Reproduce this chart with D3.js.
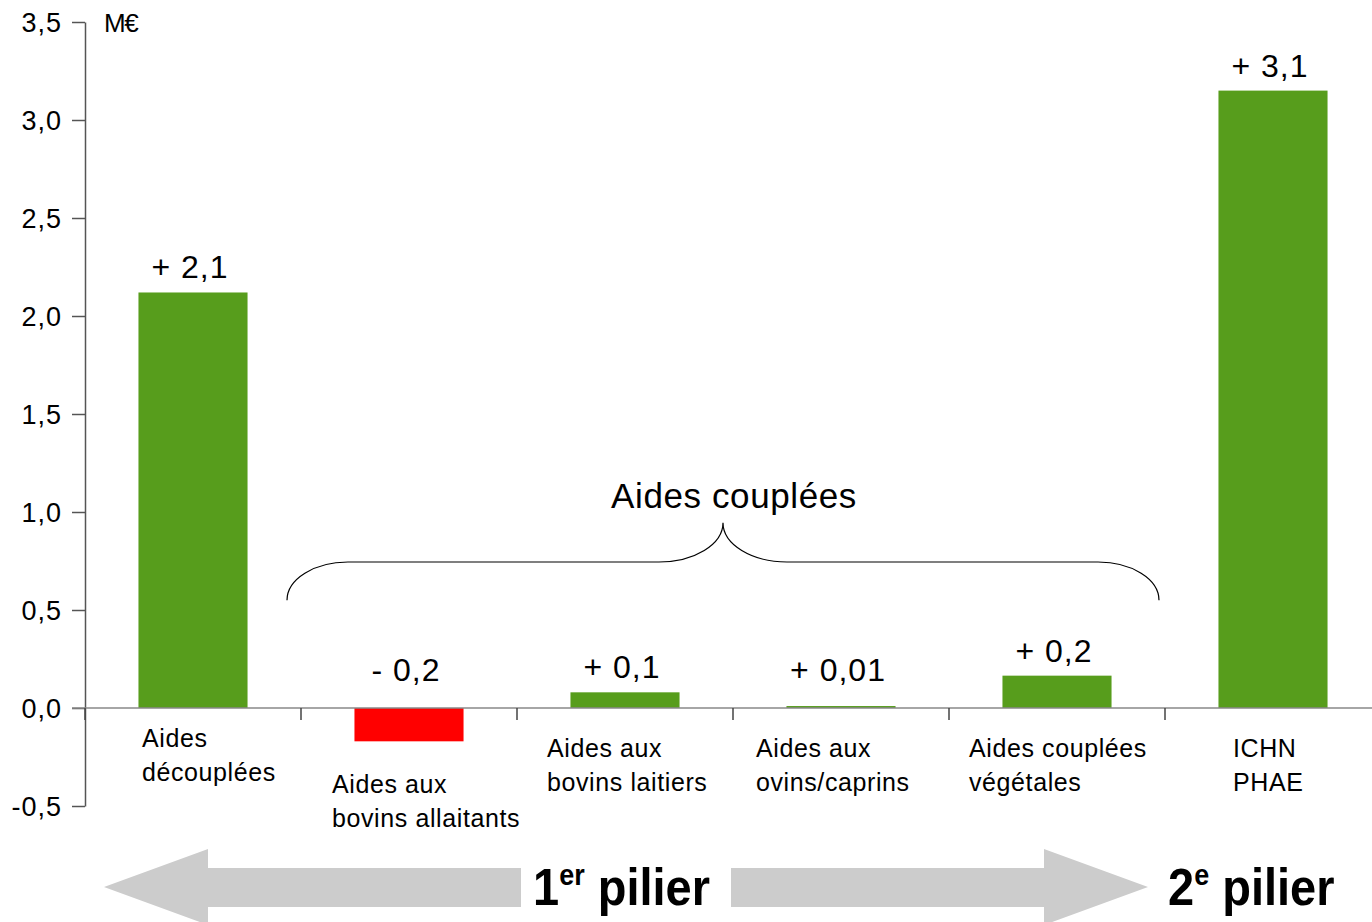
<!DOCTYPE html>
<html>
<head>
  <meta charset="utf-8">
  <script src="https://cdn.jsdelivr.net/npm/d3@7"></script>
  <style>
    body { margin: 0; background: #fff; }
    svg text { font-family: "Liberation Sans", Arial, sans-serif; fill: #000; }
  </style>
</head>
<body>
<script>
  // Data (M€)
  var categories = ["Aides découplées", "Aides aux bovins allaitants", "Aides aux bovins laitiers",
                    "Aides aux ovins/caprins", "Aides couplées végétales", "ICHN PHAE"];
  var categoryLines = [["Aides", "découplées"], ["Aides aux", "bovins allaitants"], ["Aides aux", "bovins laitiers"],
                       ["Aides aux", "ovins/caprins"], ["Aides couplées", "végétales"], ["ICHN", "PHAE"]];
  var values = [2.12, -0.17, 0.08, 0.01, 0.165, 3.15];
  var valueLabels = ["+ 2,1", "- 0,2", "+ 0,1", "+ 0,01", "+ 0,2", "+ 3,1"];
  var yTicks = [-0.5, 0, 0.5, 1.0, 1.5, 2.0, 2.5, 3.0, 3.5];

  // layout for the hand placed category labels (offset from band start, first baseline below zero)
  var labelDx = [57, 31, 30, 23, 20, 68];
  var labelDy = [39, 85, 49, 49, 49, 49];

  var width = 1372, height = 922;
  var green = "#579d1c", red = "#ff0000";

  var svg = d3.select("body").append("svg")
      .attr("width", width)
      .attr("height", height);

  var y = d3.scaleLinear().domain([-0.5, 3.5]).range([806, 22]);
  var x = d3.scaleBand().domain(categories)
      .range([85, 1381])
      .paddingInner(0.495)
      .paddingOuter(0.2475);
  var step = x.step();
  var bandStart = function(c) { return x(c) - x.paddingOuter() * step; };

  var fmt = function(d) { return d3.format(".1f")(d).replace("\u2212", "-").replace(".", ","); };

  // bars
  svg.selectAll("rect.bar")
    .data(values)
    .enter().append("rect")
      .attr("class", "bar")
      .attr("x", function(d, i) { return x(categories[i]); })
      .attr("width", x.bandwidth())
      .attr("y", function(d) { return y(Math.max(d, 0)); })
      .attr("height", function(d) { return Math.abs(y(d) - y(0)); })
      .attr("fill", function(d) { return d < 0 ? red : green; });

  // y axis
  var yAxis = d3.axisLeft(y)
      .tickValues(yTicks)
      .tickSize(13)
      .tickSizeOuter(0)
      .tickPadding(10)
      .tickFormat(fmt);

  var ga = svg.append("g")
      .attr("transform", "translate(85,0)")
      .call(yAxis);
  ga.select(".domain").attr("stroke", "#555").attr("stroke-width", 1.5);
  ga.selectAll(".tick line").attr("stroke", "#555").attr("stroke-width", 1.5);
  ga.selectAll(".tick text")
      .attr("font-family", "'Liberation Sans', Arial, sans-serif")
      .attr("font-size", 27)
      .attr("letter-spacing", 1)
      .attr("dy", "0.36em")
      .attr("fill", "#000");

  // zero line and category ticks
  svg.append("line")
      .attr("x1", 72).attr("x2", width)
      .attr("y1", y(0)).attr("y2", y(0))
      .attr("stroke", "#888").attr("stroke-width", 1.5);
  svg.selectAll("line.ctick")
    .data(categories)
    .enter().append("line")
      .attr("class", "ctick")
      .attr("x1", function(c) { return bandStart(c); })
      .attr("x2", function(c) { return bandStart(c); })
      .attr("y1", y(0)).attr("y2", y(0) + 12)
      .attr("stroke", "#444").attr("stroke-width", 1.5);

  // unit
  svg.append("text")
      .attr("x", 104).attr("y", 32)
      .attr("font-size", 26)
      .attr("letter-spacing", -1.5)
      .text("M€");

  // value labels
  svg.selectAll("text.val")
    .data(values)
    .enter().append("text")
      .attr("class", "val")
      .attr("x", function(d, i) { return x(categories[i]) + x.bandwidth() / 2 - 3; })
      .attr("y", function(d) { return Math.min(y(Math.max(d, 0)) - 14, y(0) - 27); })
      .attr("text-anchor", "middle")
      .attr("font-size", 32)
      .attr("letter-spacing", 1)
      .text(function(d, i) { return valueLabels[i]; });

  // category labels
  categoryLines.forEach(function(lines, i) {
    var t = svg.append("text")
        .attr("font-size", 25)
        .attr("letter-spacing", 0.6);
    lines.forEach(function(l, j) {
      t.append("tspan")
        .attr("x", bandStart(categories[i]) + labelDx[i])
        .attr("y", y(0) + labelDy[i] + j * 34)
        .text(l);
    });
  });

  // brace over the coupled aids
  var bl = bandStart(categories[1]) - 14, br = bandStart(categories[5]) - 6;
  var mid = (bl + br) / 2;
  var yEnd = y(0.55), yFlat = y(0.745), yPeak = y(0.945);
  var r1 = 61, r2 = 64;
  var brace = "M" + bl + "," + yEnd +
      " A" + r1 + "," + (yEnd - yFlat) + " 0 0 1 " + (bl + r1) + "," + yFlat +
      " L" + (mid - r2) + "," + yFlat +
      " A" + r2 + "," + (yFlat - yPeak) + " 0 0 0 " + mid + "," + yPeak +
      " A" + r2 + "," + (yFlat - yPeak) + " 0 0 0 " + (mid + r2) + "," + yFlat +
      " L" + (br - r1) + "," + yFlat +
      " A" + r1 + "," + (yEnd - yFlat) + " 0 0 1 " + br + "," + yEnd;
  svg.append("path")
      .attr("d", brace)
      .attr("fill", "none")
      .attr("stroke", "#000")
      .attr("stroke-width", 1.2);

  svg.append("text")
      .attr("x", mid + 11).attr("y", 508)
      .attr("text-anchor", "middle")
      .attr("font-size", 35)
      .attr("letter-spacing", 0.6)
      .text("Aides couplées");

  // pillar arrows
  svg.append("polygon")
      .attr("points", "104,887 208,849 208,868 521,868 521,907 208,907 208,925")
      .attr("fill", "#cccccc");
  svg.append("polygon")
      .attr("points", "731,868 1044,868 1044,849 1148,887 1044,925 1044,907 731,907")
      .attr("fill", "#cccccc");

  function pillar(xp, num, sup) {
    var t = svg.append("text")
        .attr("transform", "translate(" + xp + ",905) scale(1,1.12)")
        .attr("font-size", 47)
        .attr("font-weight", "bold");
    t.append("tspan").text(num);
    t.append("tspan").attr("font-size", 27).attr("dy", -18).text(sup);
    t.append("tspan").attr("dy", 18).text(" pilier");
  }
  pillar(533, "1", "er");
  pillar(1168, "2", "e");
</script>
</body>
</html>
